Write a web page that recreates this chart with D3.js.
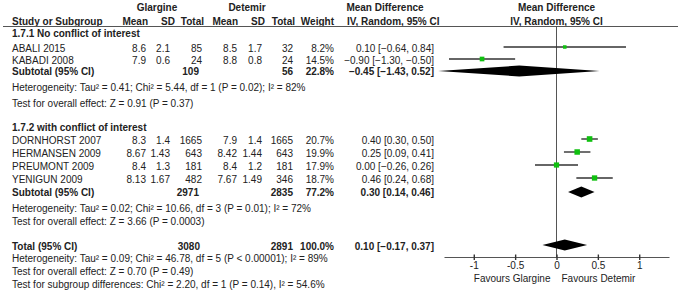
<!DOCTYPE html>
<html lang="en">
<head>
<meta charset="UTF-8">
<title>Forest plot</title>
<script src="https://d3js.org/d3.v7.min.js"></script>
<style>
  body { margin: 0; background: #fff; }
  text { font-family: "Liberation Sans", Arial, sans-serif; font-size: 10px; fill: #222; }
  .b { font-weight: bold; }
</style>
</head>
<body>
<script>
    const width  = 681;
    const height = 294;

    // data
    const groupTitles = ["1.7.1 No conflict of interest", "1.7.2 with conflict of interest"];
    const studies   = ["ABALI 2015", "KABADI 2008", "DORNHORST 2007", "HERMANSEN 2009", "PREUMONT 2009", "YENIGUN 2009"];
    const glarMean  = ["8.6", "7.9", "8.3", "8.67", "8.4", "8.13"];
    const glarSD    = ["2.1", "0.6", "1.4", "1.43", "1.3", "1.67"];
    const glarN     = [85, 24, 1665, 643, 181, 482];
    const detMean   = ["8.5", "8.8", "7.9", "8.42", "8.4", "7.67"];
    const detSD     = ["1.7", "0.8", "1.4", "1.44", "1.2", "1.49"];
    const detN      = [32, 24, 1665, 643, 181, 346];
    const weight    = [8.2, 14.5, 20.7, 19.9, 17.9, 18.7];
    const md        = [0.10, -0.90, 0.40, 0.25, 0.00, 0.46];
    const mdLo      = [-0.64, -1.30, 0.30, 0.09, -0.26, 0.24];
    const mdHi      = [0.84, -0.50, 0.50, 0.41, 0.26, 0.68];

    const subGlarN  = [109, 2971];
    const subDetN   = [56, 2835];
    const subWeight = [22.8, 77.2];
    const subMd     = [-0.45, 0.30];
    const subLo     = [-1.43, 0.14];
    const subHi     = [0.52, 0.46];
    const subHet    = ["Heterogeneity: Tau\u00b2 = 0.41; Chi\u00b2 = 5.44, df = 1 (P = 0.02); I\u00b2 = 82%",
                       "Heterogeneity: Tau\u00b2 = 0.02; Chi\u00b2 = 10.66, df = 3 (P = 0.01); I\u00b2 = 72%"];
    const subTest   = ["Test for overall effect: Z = 0.91 (P = 0.37)",
                       "Test for overall effect: Z = 3.66 (P = 0.0003)"];

    const totGlarN = 3080, totDetN = 2891, totWeight = 100.0;
    const totMd = 0.10, totLo = -0.17, totHi = 0.37;
    const totNotes = ["Heterogeneity: Tau\u00b2 = 0.09; Chi\u00b2 = 46.78, df = 5 (P < 0.00001); I\u00b2 = 89%",
                      "Test for overall effect: Z = 0.70 (P = 0.49)",
                      "Test for subgroup differences: Chi\u00b2 = 2.20, df = 1 (P = 0.14), I\u00b2 = 54.6%"];
    const axisTicks = [-1, -0.5, 0, 0.5, 1];
    const favours = ["Favours Glargine", "Favours Detemir"];

    // layout (row centres)
    const studyY = [48, 60, 140, 153, 166, 179];
    const groupY = [33, 127];
    const subY = [71, 192];
    const hetY = [87, 208];
    const testY = [103, 221];
    const totY = 246;
    const notesY = [258.5, 271, 284];
    const axisY = 257;

    const x = d3.scaleLinear().domain([-1.36, 1.36]).range([444, 669]);
    const sq = d3.scaleSqrt().domain([0, 20.7]).range([0, 5.6]);
    const f2 = d3.format(".2f");
    const f1 = d3.format(".1f");
    const ci = (m, l, h) => f2(m) + " [" + f2(l) + ", " + f2(h) + "]";

    const svg = d3.select("body").append("svg").attr("width", width).attr("height", height);

    function txt(s, xx, y, anchor, bold) {
        svg.append("text").attr("x", xx).attr("y", y + 3.5)
           .attr("text-anchor", anchor || "start")
           .attr("class", bold ? "b" : null)
           .text(s);
    }

    // headers
    txt("Glargine", 157, 7, "middle", true);
    txt("Detemir", 247, 7, "middle", true);
    txt("Mean Difference", 385, 7, "middle", true);
    txt("Mean Difference", x(0), 7, "middle", true);
    txt("Study or Subgroup", 12, 21, "start", true);
    txt("Mean", 148, 21, "end", true);
    txt("SD", 175, 21, "end", true);
    txt("Total", 204, 21, "end", true);
    txt("Mean", 238, 21, "end", true);
    txt("SD", 265, 21, "end", true);
    txt("Total", 295, 21, "end", true);
    txt("Weight", 334, 21, "end", true);
    txt("IV, Random, 95% CI", 347, 21, "start", true);
    txt("IV, Random, 95% CI", x(0), 21, "middle", true);

    svg.append("line").attr("x1", 3).attr("x2", 678).attr("y1", 26.5).attr("y2", 26.5)
       .attr("stroke", "#555").attr("stroke-width", 1.2);

    // zero line
    svg.append("line").attr("x1", x(0)).attr("x2", x(0)).attr("y1", 26.5).attr("y2", axisY)
       .attr("stroke", "#555").attr("stroke-width", 1);

    // groups
    groupTitles.forEach((g, i) => {
        txt(g, 12, groupY[i], "start", true);
        txt("Subtotal (95% CI)", 12, subY[i], "start", true);
        txt(subGlarN[i], 199, subY[i], "end", true);
        txt(subDetN[i], 293, subY[i], "end", true);
        txt(f1(subWeight[i]) + "%", 334, subY[i], "end", true);
        txt(ci(subMd[i], subLo[i], subHi[i]), 434, subY[i], "end", true);
        txt(subHet[i], 12, hetY[i]);
        txt(subTest[i], 12, testY[i]);
    });

    // studies
    studies.forEach((s, i) => {
        const y = studyY[i];
        txt(s, 12, y);
        txt(glarMean[i], 146, y, "end");
        txt(glarSD[i], 170, y, "end");
        txt(glarN[i], 202, y, "end");
        txt(detMean[i], 237, y, "end");
        txt(detSD[i], 262, y, "end");
        txt(detN[i], 293, y, "end");
        txt(f1(weight[i]) + "%", 334, y, "end");
        txt(ci(md[i], mdLo[i], mdHi[i]), 434, y, "end");

        svg.append("line").attr("x1", x(mdLo[i])).attr("x2", x(mdHi[i]))
           .attr("y1", y - 1).attr("y2", y - 1)
           .attr("stroke", "#333").attr("stroke-width", 1.4);
        const s2 = sq(weight[i]);
        svg.append("rect").attr("x", x(md[i]) - s2 / 2).attr("y", y - 1 - s2 / 2)
           .attr("width", s2).attr("height", s2).attr("fill", "#10c010");
    });

    // diamonds
    function diamond(m, l, h, y) {
        const hh = 5.5;
        svg.append("path")
           .attr("d", "M" + x(l) + "," + y + "L" + x(m) + "," + (y - hh) +
                      "L" + x(h) + "," + y + "L" + x(m) + "," + (y + hh) + "Z")
           .attr("fill", "#000");
    }
    subMd.forEach((m, i) => diamond(m, subLo[i], subHi[i], subY[i]));
    diamond(totMd, totLo, totHi, totY - 1);

    // total
    txt("Total (95% CI)", 12, totY, "start", true);
    txt(totGlarN, 200, totY, "end", true);
    txt(totDetN, 293, totY, "end", true);
    txt(f1(totWeight) + "%", 334, totY, "end", true);
    txt(ci(totMd, totLo, totHi), 434, totY, "end", true);
    totNotes.forEach((n, i) => txt(n, 12, notesY[i]));

    // axis
    const xAxis = d3.axisBottom(x).tickValues(axisTicks).tickSizeOuter(0).tickSizeInner(3)
                    .tickFormat(d => String(d));
    const ax = svg.append("g").attr("transform", "translate(0," + axisY + ")").call(xAxis);
    ax.select(".domain").attr("stroke", "#555").attr("stroke-width", 1.2);
    ax.selectAll(".tick line").attr("y1", -2.5).attr("y2", 3).attr("stroke", "#333").attr("stroke-width", 1.4);
    ax.selectAll(".tick text").attr("y", 5).attr("fill", "#222")
      .style("font-family", "'Liberation Sans', Arial, sans-serif").style("font-size", "10px");

    txt(favours[0], x(0) - 6, 278.5, "end");
    txt(favours[1], x(0) + 5, 278.5, "start");
</script>
</body>
</html>
